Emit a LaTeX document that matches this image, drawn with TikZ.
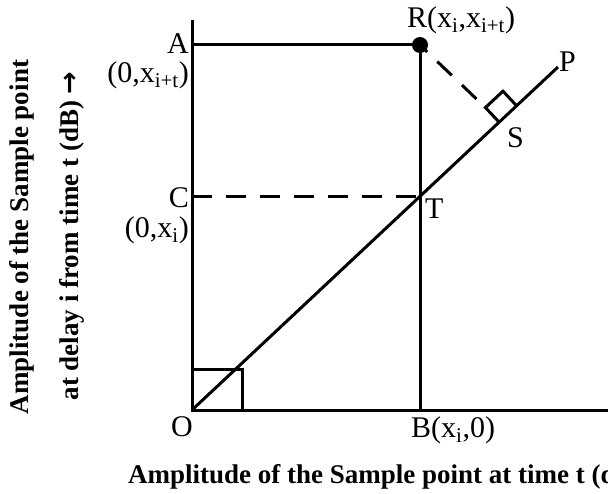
\documentclass[tikz,border=0pt]{standalone}
\usepackage{fontspec}
\setmainfont{Liberation Serif}
\newfontfamily\arrowfont{DejaVu Sans}
\usetikzlibrary{calc}
\tikzset{
	solidline/.style={line width=3pt},
	guideline/.style={line width=3pt, dash pattern=on 20pt off 14pt},
	ptlabel/.style={inner sep=0pt, font=\fontsize{30}{36}\selectfont},
	axislabel/.style={inner sep=0pt, font=\fontsize{27}{32}\selectfont\bfseries},
}
\newcommand{\edge}[3][]{
	\draw[#1] (#2) -- (#3);
}
\newcommand{\pointLabel}[4][east]{
	\node[ptlabel, anchor=#1] (#2) at (#3) {#4};
}

\begin{document}
\begin{tikzpicture}[x=1pt, y=-1pt]
	\useasboundingbox (0,0) rectangle (608,494);
	\clip (0,0) rectangle (608,494);

	\coordinate (O) at (192,410);
	\coordinate (Ytop) at (192,20);
	\coordinate (Xend) at (615,410);
	\coordinate (A) at (192,45);
	\coordinate (R) at (420,45);
	\coordinate (B) at (420,410);
	\coordinate (P) at (558,67);
	\coordinate (T) at (intersection of O--P and R--B);
	\coordinate (C) at (O |- T);
	\coordinate (S) at ($(O)!(R)!(P)$);
	\coordinate (Q) at (242,370);
	\coordinate (S0) at ($(S)!5pt!(P)$);
	\coordinate (S1) at ($(S0)!24pt!(P)$);
	\coordinate (S2) at ($(S0)!20pt!90:(P)$);
	\coordinate (S3) at ($(S1)+(S2)-(S0)$);

	% axes and lines
	\draw[solidline] (Ytop) -- (O) -- (Xend);
	\edge[solidline]{A}{R};
	\edge[solidline]{R}{B};
	\edge[solidline]{O}{P};
	\draw[solidline] (O) rectangle (Q);
	\edge[guideline]{C}{T};
	\draw[guideline, dash phase=10pt] (R) -- (S2);
	\draw[solidline] (S0) -- (S2) -- (S3) -- (S1);
	\fill (R) circle (8pt);

	% point labels
	\pointLabel{lblA}{189,44}{A};
	\pointLabel{lblAy}{189,75}{(0,x\textsubscript{i+t})};
	\pointLabel{lblC}{189,198}{C};
	\pointLabel{lblCy}{189,230}{(0,x\textsubscript{i})};
	\pointLabel[center]{lblO}{182,427}{O};
	\pointLabel[west]{lblB}{411,430}{B(x\textsubscript{i},0)};
	\pointLabel[west]{lblT}{425,209}{T};
	\pointLabel[west]{lblS}{507,138}{S};
	\pointLabel[west]{lblP}{559,62}{P};
	\pointLabel[west]{lblR}{407,20}{R(x\textsubscript{i},x\textsubscript{i+t})};

	% axis titles
	\node[axislabel, anchor=west] (xtitle) at (128,477)
		{Amplitude of the Sample point at time t (dB)};
	\node[axislabel, rotate=90] (ytitleA) at (22,237)
		{Amplitude of the Sample point};
	\node[axislabel, rotate=90] (ytitleB) at (72,236)
		{at delay i from time t (dB) {\arrowfont\fontsize{27}{32}\selectfont →}};
\end{tikzpicture}
\end{document}
